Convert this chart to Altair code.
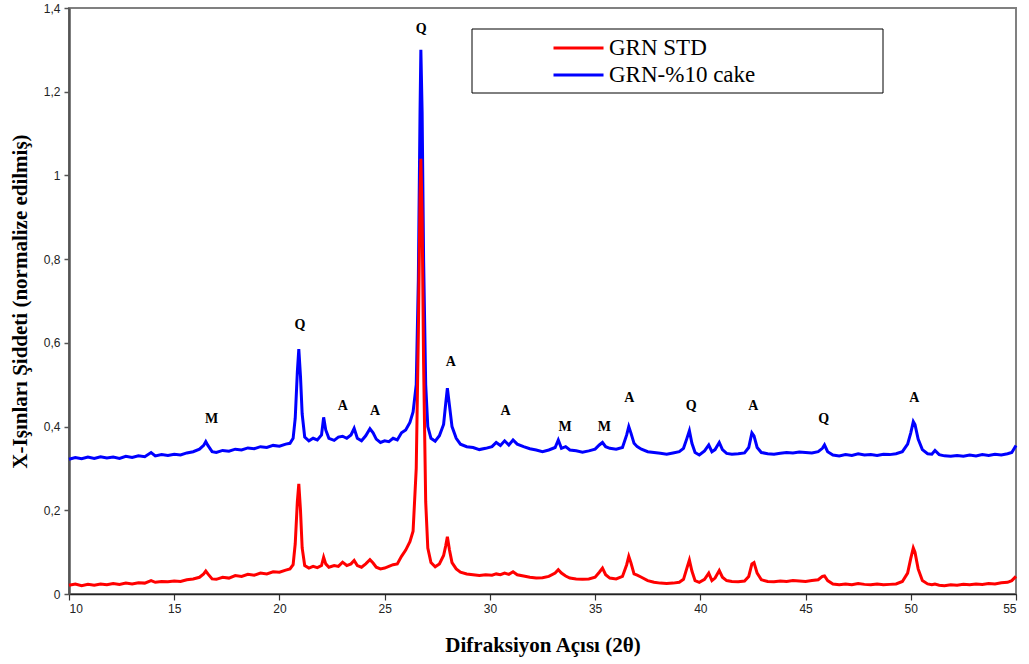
import altair as alt
import pandas as pd

SERIES = ["GRN STD", "GRN-%10 cake"]
COLORS = ["#FF0000", "#0000FF"]

X_TICKS = [10, 15, 20, 25, 30, 35, 40, 45, 50, 55]
Y_TICKS = [0, 0.2, 0.4, 0.6, 0.8, 1.0, 1.2, 1.4]

# GRN-%10 cake (blue) : [2theta, intensity]
BLUE = [
    (10.0, 0.322), (10.3, 0.326), (10.6, 0.323), (10.9, 0.327), (11.2, 0.324), (11.5, 0.328),
    (11.8, 0.325), (12.1, 0.327), (12.4, 0.324), (12.7, 0.329), (13.0, 0.326), (13.3, 0.330),
    (13.6, 0.328), (13.9, 0.338), (14.1, 0.330), (14.4, 0.333), (14.7, 0.331), (15.0, 0.334),
    (15.3, 0.332), (15.6, 0.337), (15.9, 0.340), (16.2, 0.346), (16.4, 0.355), (16.5, 0.364),
    (16.6, 0.355), (16.8, 0.340), (17.0, 0.338), (17.3, 0.343), (17.6, 0.341), (17.9, 0.346),
    (18.2, 0.344), (18.5, 0.349), (18.8, 0.347), (19.1, 0.352), (19.4, 0.350), (19.7, 0.355),
    (20.0, 0.353), (20.3, 0.358), (20.5, 0.360), (20.65, 0.372), (20.75, 0.42), (20.85, 0.53),
    (20.92, 0.585), (21.0, 0.52), (21.08, 0.43), (21.2, 0.375), (21.4, 0.366), (21.6, 0.372),
    (21.8, 0.368), (22.0, 0.380), (22.1, 0.422), (22.2, 0.392), (22.35, 0.372), (22.6, 0.367),
    (22.8, 0.375), (23.0, 0.377), (23.2, 0.372), (23.4, 0.380), (23.55, 0.396), (23.7, 0.372),
    (23.9, 0.366), (24.1, 0.378), (24.3, 0.395), (24.45, 0.385), (24.6, 0.370), (24.8, 0.362),
    (25.0, 0.366), (25.2, 0.364), (25.4, 0.372), (25.6, 0.368), (25.8, 0.385), (26.0, 0.392),
    (26.2, 0.41), (26.35, 0.435), (26.5, 0.50), (26.6, 0.75), (26.68, 1.15), (26.72, 1.30),
    (26.78, 1.15), (26.85, 0.80), (26.95, 0.50), (27.05, 0.40), (27.2, 0.372), (27.4, 0.365),
    (27.6, 0.378), (27.8, 0.405), (27.9, 0.455), (27.98, 0.492), (28.08, 0.45), (28.2, 0.40),
    (28.4, 0.372), (28.6, 0.358), (28.9, 0.352), (29.2, 0.350), (29.5, 0.345), (29.8, 0.348),
    (30.1, 0.352), (30.3, 0.362), (30.5, 0.355), (30.7, 0.366), (30.9, 0.356), (31.1, 0.368),
    (31.3, 0.358), (31.6, 0.352), (31.9, 0.347), (32.2, 0.344), (32.5, 0.340), (32.8, 0.344),
    (33.1, 0.350), (33.25, 0.368), (33.4, 0.348), (33.6, 0.352), (33.8, 0.344), (34.1, 0.342),
    (34.4, 0.339), (34.7, 0.342), (35.0, 0.346), (35.2, 0.356), (35.35, 0.362), (35.5, 0.352),
    (35.7, 0.348), (36.0, 0.346), (36.3, 0.350), (36.5, 0.380), (36.6, 0.400), (36.7, 0.385),
    (36.85, 0.360), (37.0, 0.352), (37.2, 0.346), (37.5, 0.340), (37.8, 0.338), (38.1, 0.336),
    (38.4, 0.334), (38.7, 0.337), (39.0, 0.340), (39.2, 0.348), (39.35, 0.370), (39.48, 0.390),
    (39.6, 0.360), (39.75, 0.338), (39.95, 0.332), (40.2, 0.342), (40.4, 0.356), (40.55, 0.340),
    (40.7, 0.345), (40.9, 0.362), (41.05, 0.345), (41.25, 0.336), (41.5, 0.334), (41.8, 0.335),
    (42.1, 0.337), (42.3, 0.350), (42.45, 0.385), (42.55, 0.378), (42.7, 0.350), (42.9, 0.338),
    (43.2, 0.335), (43.5, 0.334), (43.8, 0.336), (44.1, 0.338), (44.4, 0.337), (44.7, 0.339),
    (45.0, 0.338), (45.3, 0.337), (45.6, 0.340), (45.8, 0.348), (45.9, 0.356), (46.05, 0.340),
    (46.3, 0.332), (46.6, 0.330), (46.9, 0.333), (47.2, 0.331), (47.5, 0.335), (47.8, 0.332),
    (48.1, 0.333), (48.4, 0.331), (48.7, 0.334), (49.0, 0.333), (49.3, 0.335), (49.6, 0.340),
    (49.85, 0.358), (50.0, 0.385), (50.12, 0.412), (50.2, 0.405), (50.35, 0.370), (50.55, 0.345),
    (50.8, 0.335), (51.0, 0.334), (51.15, 0.343), (51.35, 0.333), (51.6, 0.330), (51.9, 0.329),
    (52.2, 0.331), (52.5, 0.329), (52.8, 0.332), (53.1, 0.330), (53.4, 0.333), (53.7, 0.331),
    (54.0, 0.334), (54.3, 0.332), (54.6, 0.335), (54.8, 0.338), (55.0, 0.355),
]

# GRN STD (red) : [2theta, intensity]
RED = [
    (10.0, 0.021), (10.3, 0.024), (10.6, 0.020), (10.9, 0.023), (11.2, 0.021), (11.5, 0.024),
    (11.8, 0.022), (12.1, 0.025), (12.4, 0.023), (12.7, 0.026), (13.0, 0.024), (13.3, 0.027),
    (13.6, 0.026), (13.9, 0.032), (14.1, 0.028), (14.4, 0.030), (14.7, 0.029), (15.0, 0.031),
    (15.3, 0.030), (15.6, 0.034), (15.9, 0.036), (16.2, 0.040), (16.4, 0.048), (16.5, 0.055),
    (16.6, 0.048), (16.8, 0.036), (17.0, 0.035), (17.3, 0.040), (17.6, 0.038), (17.9, 0.044),
    (18.2, 0.042), (18.5, 0.047), (18.8, 0.045), (19.1, 0.050), (19.4, 0.048), (19.7, 0.053),
    (20.0, 0.052), (20.3, 0.057), (20.5, 0.060), (20.65, 0.070), (20.75, 0.120), (20.85, 0.220),
    (20.92, 0.263), (21.0, 0.200), (21.08, 0.110), (21.2, 0.068), (21.4, 0.062), (21.6, 0.066),
    (21.8, 0.063), (22.0, 0.068), (22.1, 0.088), (22.2, 0.072), (22.35, 0.064), (22.6, 0.068),
    (22.8, 0.066), (23.0, 0.076), (23.2, 0.068), (23.4, 0.072), (23.55, 0.080), (23.7, 0.068),
    (23.9, 0.064), (24.1, 0.072), (24.3, 0.082), (24.45, 0.074), (24.6, 0.064), (24.8, 0.060),
    (25.0, 0.062), (25.2, 0.066), (25.4, 0.070), (25.6, 0.072), (25.8, 0.090), (26.0, 0.105),
    (26.2, 0.125), (26.35, 0.150), (26.5, 0.30), (26.6, 0.62), (26.68, 0.95), (26.72, 1.04),
    (26.78, 0.90), (26.85, 0.55), (26.95, 0.22), (27.05, 0.11), (27.2, 0.075), (27.4, 0.065),
    (27.6, 0.072), (27.8, 0.092), (27.9, 0.115), (27.98, 0.137), (28.08, 0.105), (28.2, 0.075),
    (28.4, 0.060), (28.6, 0.052), (28.9, 0.048), (29.2, 0.046), (29.5, 0.044), (29.8, 0.046),
    (30.1, 0.045), (30.3, 0.048), (30.5, 0.046), (30.7, 0.050), (30.9, 0.047), (31.1, 0.053),
    (31.3, 0.046), (31.6, 0.043), (31.9, 0.040), (32.2, 0.038), (32.5, 0.039), (32.8, 0.042),
    (33.1, 0.050), (33.25, 0.058), (33.4, 0.050), (33.6, 0.043), (33.8, 0.038), (34.1, 0.036),
    (34.4, 0.035), (34.7, 0.036), (35.0, 0.040), (35.2, 0.052), (35.35, 0.062), (35.5, 0.046),
    (35.7, 0.038), (36.0, 0.036), (36.3, 0.042), (36.5, 0.070), (36.6, 0.090), (36.7, 0.075),
    (36.85, 0.048), (37.0, 0.045), (37.2, 0.040), (37.5, 0.032), (37.8, 0.028), (38.1, 0.026),
    (38.4, 0.025), (38.7, 0.026), (39.0, 0.028), (39.2, 0.035), (39.35, 0.060), (39.48, 0.081),
    (39.6, 0.055), (39.75, 0.032), (39.95, 0.028), (40.2, 0.035), (40.4, 0.050), (40.55, 0.032),
    (40.7, 0.038), (40.9, 0.056), (41.05, 0.040), (41.25, 0.032), (41.5, 0.030), (41.8, 0.029),
    (42.1, 0.031), (42.3, 0.042), (42.45, 0.072), (42.55, 0.075), (42.7, 0.050), (42.9, 0.034),
    (43.2, 0.030), (43.5, 0.029), (43.8, 0.031), (44.1, 0.030), (44.4, 0.032), (44.7, 0.031),
    (45.0, 0.030), (45.3, 0.032), (45.6, 0.034), (45.8, 0.042), (45.9, 0.043), (46.05, 0.032),
    (46.3, 0.024), (46.6, 0.022), (46.9, 0.024), (47.2, 0.022), (47.5, 0.025), (47.8, 0.023),
    (48.1, 0.022), (48.4, 0.024), (48.7, 0.022), (49.0, 0.023), (49.3, 0.024), (49.6, 0.030),
    (49.85, 0.050), (50.0, 0.085), (50.12, 0.110), (50.2, 0.100), (50.35, 0.060), (50.55, 0.032),
    (50.8, 0.024), (51.0, 0.022), (51.15, 0.024), (51.35, 0.021), (51.6, 0.020), (51.9, 0.022),
    (52.2, 0.021), (52.5, 0.023), (52.8, 0.022), (53.1, 0.024), (53.4, 0.023), (53.7, 0.025),
    (54.0, 0.024), (54.3, 0.027), (54.6, 0.028), (54.8, 0.032), (55.0, 0.042),
]

PEAK_LABELS = ["M", "Q", "A", "A", "Q", "A", "A", "M", "M", "A", "Q", "A", "Q", "A"]
PEAK_X = [16.78, 20.97, 23.01, 24.54, 26.73, 28.14, 30.75, 33.57, 35.44, 36.63, 39.56, 42.52, 45.86, 50.17]
PEAK_Y = [0.418, 0.643, 0.450, 0.438, 1.350, 0.554, 0.438, 0.400, 0.400, 0.469, 0.448, 0.448, 0.419, 0.469]

df_blue = pd.DataFrame(BLUE, columns=["x", "y"])
df_blue["series"] = SERIES[1]
df_red = pd.DataFrame(RED, columns=["x", "y"])
df_red["series"] = SERIES[0]
df_ann = pd.DataFrame({"label": PEAK_LABELS, "x": PEAK_X, "y": PEAK_Y})

xscale = alt.Scale(domain=[10, 55], nice=False, zero=False)
yscale = alt.Scale(domain=[0, 1.4], nice=False)

xaxis = alt.Axis(
    values=X_TICKS, format="d", grid=False,
    labelFont="Liberation Sans", labelFontSize=12, labelColor="#222222", labelPadding=3,
    tickSize=6, tickColor="#333333", tickWidth=1.2,
    domainColor="#222222", domainWidth=1.5,
    title="Difraksiyon Açısı (2θ)", titleFont="Liberation Serif", titleFontSize=21,
    titleFontWeight="bold", titleColor="black", titleX=473.5, titleY=51,
    titleBaseline="middle", titleAlign="center",
)
yaxis = alt.Axis(
    values=Y_TICKS, grid=False,
    labelExpr="replace(format(datum.value, '.1~f'), '.', ',')",
    labelFont="Liberation Sans", labelFontSize=12, labelColor="#222222", labelPadding=4,
    tickSize=5, tickColor="#555555", tickWidth=1.5,
    domainColor="#555555", domainWidth=2.5,
    title="X-Işınları Şiddeti (normalize edilmiş)", titleFont="Liberation Serif",
    titleFontSize=21, titleFontWeight="bold", titleColor="black",
    titleX=-49, titleY=293, titleAngle=270, titleBaseline="middle", titleAlign="center",
)

color = alt.Color(
    "series:N",
    scale=alt.Scale(domain=SERIES, range=COLORS),
    legend=alt.Legend(
        title=None, orient="none", legendX=403, legendY=21, direction="vertical",
        padding=6, rowPadding=2,
        symbolType="M-1,0L3.35,0", symbolSize=529, symbolStrokeWidth=3,
        symbolOffset=74, labelOffset=31,
        labelFont="Liberation Serif", labelFontSize=23, labelColor="black", labelLimit=1000,
    ),
)

blue_line = alt.Chart(df_blue).mark_line(strokeWidth=3).encode(
    x=alt.X("x:Q", scale=xscale, axis=xaxis),
    y=alt.Y("y:Q", scale=yscale, axis=yaxis),
    color=color,
)
red_line = alt.Chart(df_red).mark_line(strokeWidth=3).encode(
    x=alt.X("x:Q", scale=xscale, axis=xaxis),
    y=alt.Y("y:Q", scale=yscale, axis=yaxis),
    color=color,
)
text = alt.Chart(df_ann).mark_text(
    font="Liberation Serif", fontWeight="bold", fontSize=14, color="black",
    baseline="middle", align="center",
).encode(
    x=alt.X("x:Q", scale=xscale),
    y=alt.Y("y:Q", scale=yscale),
    text="label:N",
)
# legend frame (decoration behind the legend entries)
legend_box = alt.Chart(pd.DataFrame({"k": [0]})).mark_rect(
    fill="white", stroke="black", strokeWidth=1
).encode(
    x=alt.value(403), x2=alt.value(814), y=alt.value(21), y2=alt.value(85),
)

chart = alt.layer(blue_line, red_line, text, legend_box).properties(
    width=947, height=586,
    padding={"left": 69, "top": 8, "right": 13, "bottom": 70},
    autosize=alt.AutoSizeParams(type="none"),
).configure_view(stroke="#808080", strokeWidth=2)

chart.save("out.html", embed_options={"renderer": "svg", "actions": False})
